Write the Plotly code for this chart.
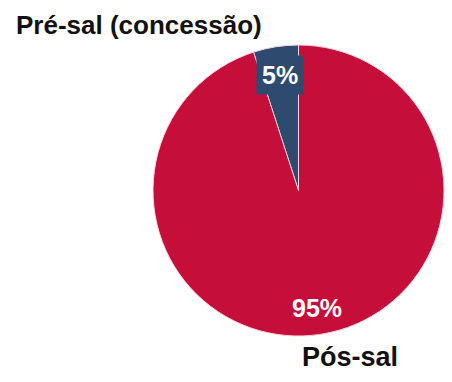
import plotly.graph_objects as go

# Share of reserves by category
categories = ["Pré-sal (concessão)", "Pós-sal"]
values = [5, 95]
colors = ["#2E4A6E", "#C60E3B"]

total = sum(values)
pct = [f"{v / total * 100:.0f}%" for v in values]

W, H = 452, 382
FONT = "Liberation Sans Narrow, Arial Narrow, Liberation Sans, Arial, sans-serif"

fig = go.Figure(
    go.Pie(
        labels=categories,
        values=values,
        sort=False,
        direction="clockwise",
        # the small slice ends at 12 o'clock
        rotation=-360 * values[0] / total,
        marker=dict(colors=colors, line=dict(color="#F4D6DD", width=1)),
        textinfo="none",
        hoverinfo="label+percent",
        showlegend=False,
        domain=dict(x=[153 / W, 444 / W], y=[1 - 336 / H, 1 - 45 / H]),
    )
)

annotations = [
    # category names
    dict(text="<b>" + categories[0] + "</b>", x=14 / W, y=1 - 25 / H,
         xanchor="left", yanchor="middle", font=dict(size=26, color="#111111")),
    dict(text="<b>" + categories[1] + "</b>", x=350 / W, y=1 - 357 / H,
         xanchor="center", yanchor="middle", font=dict(size=27, color="#111111")),
    # percentage labels
    dict(text="<b>" + pct[0] + "</b>", x=280 / W, y=1 - 75 / H,
         xanchor="center", yanchor="middle", bgcolor=colors[0],
         borderpad=5, font=dict(size=25, color="white")),
    dict(text="<b>" + pct[1] + "</b>", x=317 / W, y=1 - 308 / H,
         xanchor="center", yanchor="middle", font=dict(size=25, color="white")),
]
for a in annotations:
    a.update(xref="paper", yref="paper", showarrow=False)
    a["font"]["family"] = FONT

fig.update_layout(
    width=W,
    height=H,
    margin=dict(l=0, r=0, t=0, b=0),
    paper_bgcolor="white",
    plot_bgcolor="white",
    annotations=annotations,
)

fig.write_html("out.html")
